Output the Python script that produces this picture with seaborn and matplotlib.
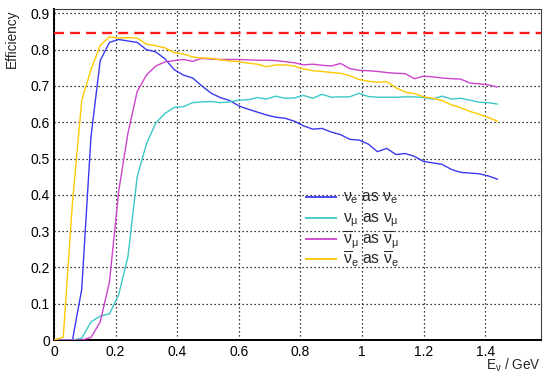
import matplotlib
matplotlib.use("Agg")
import matplotlib.pyplot as plt
import seaborn as sns
import pandas as pd
from matplotlib.ticker import MultipleLocator, FixedLocator, FixedFormatter

# ---------------- data ----------------
energy = [0.00, 0.03, 0.06, 0.09, 0.12, 0.15, 0.18, 0.21, 0.24, 0.27,
          0.30, 0.33, 0.36, 0.39, 0.42, 0.45, 0.48, 0.51, 0.54, 0.57,
          0.60, 0.63, 0.66, 0.69, 0.72, 0.75, 0.78, 0.81, 0.84, 0.87,
          0.90, 0.93, 0.96, 0.99, 1.02, 1.05, 1.08, 1.11, 1.14, 1.17,
          1.20, 1.23, 1.26, 1.29, 1.32, 1.35, 1.38, 1.41, 1.44]

nue_as_nue = [0, 0, 0, 0.14, 0.56, 0.77, 0.82, 0.828, 0.824, 0.82,
              0.80, 0.794, 0.775, 0.745, 0.73, 0.722, 0.70, 0.68, 0.668, 0.66,
              0.645, 0.636, 0.628, 0.62, 0.614, 0.611, 0.603, 0.59, 0.581, 0.583,
              0.573, 0.566, 0.553, 0.551, 0.54, 0.519, 0.528, 0.511, 0.514, 0.506,
              0.492, 0.488, 0.484, 0.47, 0.462, 0.460, 0.458, 0.452, 0.443]

numu_as_numu = [0, 0, 0, 0.005, 0.05, 0.066, 0.072, 0.125, 0.23, 0.45,
                0.54, 0.598, 0.624, 0.641, 0.643, 0.654, 0.656, 0.657, 0.654, 0.656,
                0.661, 0.662, 0.668, 0.664, 0.672, 0.666, 0.667, 0.674, 0.666, 0.677,
                0.669, 0.670, 0.670, 0.680, 0.671, 0.669, 0.669, 0.669, 0.670, 0.670,
                0.668, 0.664, 0.672, 0.664, 0.666, 0.661, 0.655, 0.654, 0.650]

numubar_as_numubar = [0, 0, 0, 0, 0.007, 0.05, 0.16, 0.41, 0.57, 0.685,
                      0.73, 0.755, 0.766, 0.77, 0.773, 0.768, 0.776, 0.774, 0.773, 0.773,
                      0.773, 0.772, 0.771, 0.771, 0.770, 0.767, 0.764, 0.758, 0.760, 0.757,
                      0.755, 0.762, 0.748, 0.743, 0.742, 0.740, 0.737, 0.735, 0.734, 0.720,
                      0.727, 0.725, 0.722, 0.720, 0.719, 0.708, 0.706, 0.703, 0.697]

nuebar_as_nuebar = [0, 0.008, 0.38, 0.66, 0.745, 0.812, 0.835, 0.832, 0.833, 0.832,
                    0.815, 0.811, 0.805, 0.792, 0.788, 0.780, 0.777, 0.776, 0.772, 0.769,
                    0.767, 0.763, 0.760, 0.753, 0.758, 0.758, 0.755, 0.747, 0.742, 0.740,
                    0.737, 0.735, 0.728, 0.718, 0.713, 0.710, 0.712, 0.695, 0.683, 0.679,
                    0.670, 0.666, 0.660, 0.648, 0.640, 0.630, 0.622, 0.613, 0.603]

reference_level = 0.845

labels = [r"$\nu_{e}$ as $\nu_{e}$",
          r"$\nu_{\mu}$ as $\nu_{\mu}$",
          r"$\overline{\nu}_{\mu}$ as $\overline{\nu}_{\mu}$",
          r"$\overline{\nu}_{e}$ as $\overline{\nu}_{e}$"]
series = [nue_as_nue, numu_as_numu, numubar_as_numubar, nuebar_as_nuebar]
colors = ["#3a3af0", "#3cc8c8", "#cc44cc", "#ffc800"]

x_ticks = [0, 0.2, 0.4, 0.6, 0.8, 1.0, 1.2, 1.4]
x_ticklabels = ["0", "0.2", "0.4", "0.6", "0.8", "1", "1.2", "1.4"]
y_ticks = [0, 0.1, 0.2, 0.3, 0.4, 0.5, 0.6, 0.7, 0.8, 0.9]
y_ticklabels = ["0", "0.1", "0.2", "0.3", "0.4", "0.5", "0.6", "0.7", "0.8", "0.9"]

# ---------------- style ----------------
sns.set_style("white")
plt.rcParams["font.family"] = ["Liberation Sans", "DejaVu Sans"]
plt.rcParams["mathtext.fontset"] = "custom"
plt.rcParams["mathtext.rm"] = "Liberation Sans"
plt.rcParams["mathtext.it"] = "Liberation Sans"
plt.rcParams["mathtext.bf"] = "Liberation Sans:bold"

df = pd.concat([pd.DataFrame({"energy": energy, "eff": s, "channel": lab})
                for s, lab in zip(series, labels)], ignore_index=True)

fig = plt.figure(figsize=(5.5, 3.76), dpi=100, facecolor="white")
ax = fig.add_axes([0.0982, 0.0957, 0.8855, 0.8803])

sns.lineplot(data=df, x="energy", y="eff", hue="channel", hue_order=labels,
             palette=dict(zip(labels, colors)), estimator=None, sort=False,
             linewidth=1.0, legend=False, ax=ax, zorder=3)

ax.axhline(reference_level, color="#ff1a1a", lw=1.7, ls=(0, (4.2, 2.6)), zorder=4)

ax.set_xlim(0, 1.581)
ax.set_ylim(0, 0.912)

ax.xaxis.set_major_locator(FixedLocator(x_ticks))
ax.xaxis.set_major_formatter(FixedFormatter(x_ticklabels))
ax.xaxis.set_minor_locator(MultipleLocator(0.05))
ax.yaxis.set_major_locator(FixedLocator(y_ticks))
ax.yaxis.set_major_formatter(FixedFormatter(y_ticklabels))
ax.yaxis.set_minor_locator(MultipleLocator(0.02))

ax.tick_params(axis="both", which="both", direction="in", colors="black",
               labelsize=10, width=1.1)
ax.tick_params(axis="y", which="major", length=10, pad=3)
ax.tick_params(axis="y", which="minor", length=5.5)
ax.tick_params(axis="x", which="major", length=6.5, pad=3.5)
ax.tick_params(axis="x", which="minor", length=3.6)

ax.grid(True, which="major", color="black", linestyle=(0, (1, 2.2)), linewidth=0.9)
ax.set_axisbelow(True)

for side in ["left", "bottom"]:
    ax.spines[side].set_linewidth(1.4)
    ax.spines[side].set_color("black")
for side in ["top", "right"]:
    ax.spines[side].set_linewidth(0.8)
    ax.spines[side].set_color("#444444")
    ax.spines[side].set_visible(True)

ax.set_xlabel(r"E$_{\nu}$ / GeV", fontsize=9.8, loc="right")
ax.xaxis.set_label_coords(1.0, -0.05)
ax.xaxis.label.set_va("top")
ax.set_ylabel("Efficiency", fontsize=9.8, loc="top")
ax.yaxis.set_label_coords(-0.072, 1.0)

# legend (equal row spacing, ROOT-like)
row_y = [0.433, 0.369, 0.305, 0.244]
for yy, lab, c in zip(row_y, labels, colors):
    ax.plot([0.515, 0.581], [yy, yy], color=c, lw=1.3, transform=ax.transAxes,
            solid_capstyle="butt", zorder=5)
    ax.text(0.593, yy - 0.0145, lab, transform=ax.transAxes, fontsize=11.3,
            ha="left", va="baseline", zorder=5)

fig.savefig("out.png", dpi=100, facecolor="white")
